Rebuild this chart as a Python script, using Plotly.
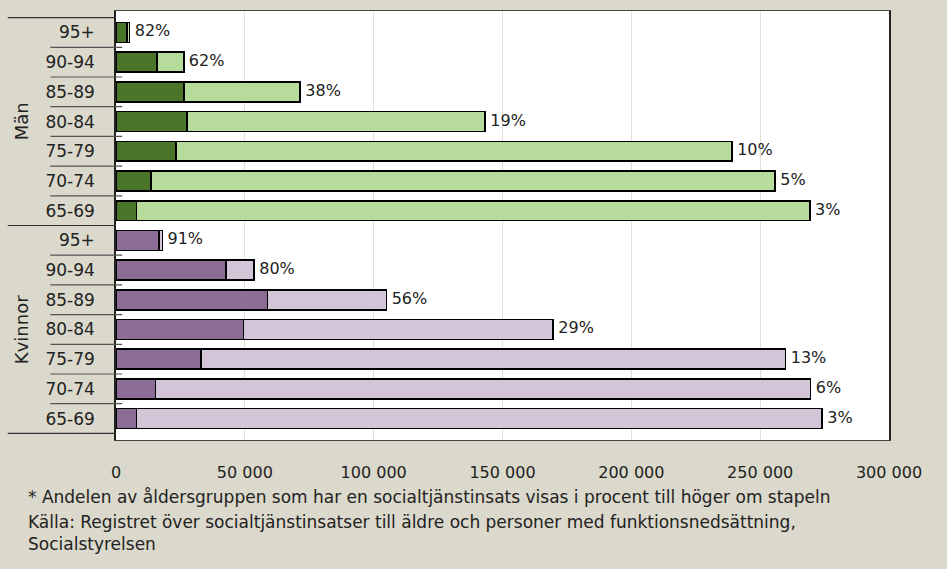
import plotly.graph_objects as go

# Åldersgrupper (uppifrån och ned)
alder = ['95+', '90-94', '85-89', '80-84', '75-79', '70-74', '65-69']

# Män: mörk del och total stapellängd
man_mork = [4200, 15900, 26500, 27500, 23300, 13500, 7900]
man_total = [5300, 26300, 71500, 143300, 239100, 255800, 269300]
man_pct = ['82%', '62%', '38%', '19%', '10%', '5%', '3%']

# Kvinnor
kv_mork = [16600, 42800, 58800, 49500, 33000, 15300, 7900]
kv_total = [18000, 53600, 105000, 169700, 259900, 269600, 274100]
kv_pct = ['91%', '80%', '56%', '29%', '13%', '6%', '3%']

bg = '#dbd8cc'
font = 'DejaVu Sans'

ym = ['M ' + a for a in alder]
yk = ['K ' + a for a in alder]
ycat = ym + yk

fig = go.Figure()

def stapel(y, mork, total, c1, c2):
    fig.add_trace(go.Bar(y=y, x=mork, orientation='h', marker_color=c1,
                         marker_line=dict(color='black', width=1.6)))
    fig.add_trace(go.Bar(y=y, x=[t - m for t, m in zip(total, mork)], orientation='h',
                         marker_color=c2, marker_line=dict(color='black', width=1.6)))

stapel(ym, man_mork, man_total, '#4b752b', '#b6db9b')
stapel(yk, kv_mork, kv_total, '#8c6d96', '#d3c5d8')

fig.add_trace(go.Scatter(y=ycat, x=man_total + kv_total, mode='text',
                         text=man_pct + kv_pct, texttemplate=' %{text}',
                         textposition='middle right',
                         textfont=dict(size=16, color='#222')))

# avgränsare i vänsterpanelen
shapes = []
for i in range(len(ycat) + 1):
    grupp = i in (0, 7, 14)
    shapes.append(dict(type='line', xref='paper', yref='y',
                       x0=-0.14 if grupp else -0.085, x1=0 if grupp else 0.008,
                       y0=i - 0.5, y1=i - 0.5,
                       line=dict(color='#333' if grupp else '#555', width=1.2)))

fn = dict(size=17, color='#222')
annots = [
    dict(text='Män', x=-0.122, y=3, xref='paper', yref='y', textangle=-90,
         xanchor='center', showarrow=False, font=dict(size=18, color='#222')),
    dict(text='Kvinnor', x=-0.122, y=10, xref='paper', yref='y', textangle=-90,
         xanchor='center', showarrow=False, font=dict(size=18, color='#222')),
    dict(text='* Andelen av åldersgruppen som har en socialtjänstinsats visas i procent till höger om stapeln',
         x=-0.116, y=-0.133, xref='paper', yref='paper', xanchor='left', yanchor='middle',
         showarrow=False, font=fn),
    dict(text='Källa: Registret över socialtjänstinsatser till äldre och personer med funktionsnedsättning,',
         x=-0.116, y=-0.191, xref='paper', yref='paper', xanchor='left', yanchor='middle',
         showarrow=False, font=fn),
    dict(text='Socialstyrelsen',
         x=-0.116, y=-0.242, xref='paper', yref='paper', xanchor='left', yanchor='middle',
         showarrow=False, font=fn),
]

fig.update_layout(
    width=947, height=569,
    margin=dict(l=116, r=58, t=11, b=129, autoexpand=False),
    paper_bgcolor=bg, plot_bgcolor='white',
    barmode='stack', bargap=0.33, showlegend=False,
    font=dict(family=font, size=17, color='#222'),
    shapes=shapes, annotations=annots,
    xaxis=dict(range=[0, 300000], tickvals=[0, 50000, 100000, 150000, 200000, 250000, 300000],
               ticktext=['0', '50 000', '100 000', '150 000', '200 000', '250 000', '300 000'],
               tickfont=dict(size=16),
               showgrid=True, gridcolor='#e2dfd6', gridwidth=1, zeroline=False,
               showline=True, linecolor='#444', linewidth=1.2, mirror=True,
               ticks='', ticklabelstandoff=18, automargin=False),
    yaxis=dict(categoryorder='array', categoryarray=ycat, autorange='reversed',
               tickvals=ycat, ticktext=alder + alder, showgrid=False,
               showline=True, linecolor='#222', linewidth=1.5, mirror=True,
               ticks='', ticklabelstandoff=16, automargin=False),
)

fig.write_html('out.html', config={'displayModeBar': False},
               post_script="document.body.style.margin='0';")
